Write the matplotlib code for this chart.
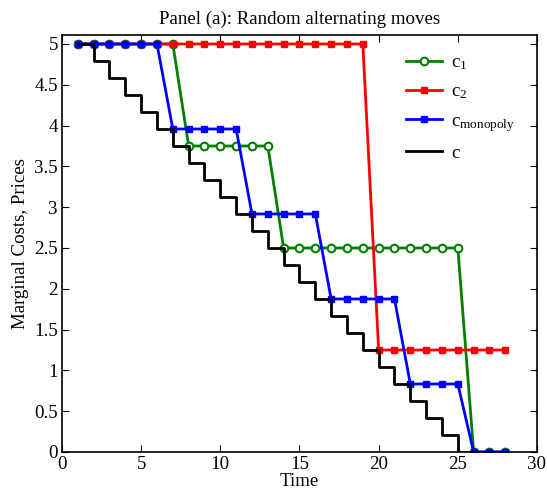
import matplotlib
matplotlib.use("Agg")
import matplotlib.pyplot as plt

plt.rcParams['font.family'] = ['Liberation Serif', 'DejaVu Serif']
plt.rcParams['mathtext.fontset'] = 'custom'
plt.rcParams['mathtext.rm'] = 'Liberation Serif'
plt.rcParams['mathtext.it'] = 'Liberation Serif:italic'

time = list(range(1, 29))

c1 = [5, 5, 5, 5, 5, 5, 5,
      3.75, 3.75, 3.75, 3.75, 3.75, 3.75,
      2.5, 2.5, 2.5, 2.5, 2.5, 2.5, 2.5, 2.5, 2.5, 2.5, 2.5, 2.5,
      0, 0, 0]

c2 = [5] * 19 + [1.25] * 9

c_monopoly = [5, 5, 5, 5, 5, 5,
              3.958, 3.958, 3.958, 3.958, 3.958,
              2.917, 2.917, 2.917, 2.917, 2.917,
              1.875, 1.875, 1.875, 1.875, 1.875,
              0.833, 0.833, 0.833, 0.833,
              0, 0, 0]

c = [5, 4.792, 4.583, 4.375, 4.167, 3.958, 3.75, 3.542, 3.333, 3.125,
     2.917, 2.708, 2.5, 2.292, 2.083, 1.875, 1.667, 1.458, 1.25, 1.042,
     0.833, 0.625, 0.417, 0.208, 0, 0, 0, 0]

x_ticks = [0, 5, 10, 15, 20, 25, 30]
y_ticks = [0, 0.5, 1, 1.5, 2, 2.5, 3, 3.5, 4, 4.5, 5]
y_tick_labels = ['0', '0.5', '1', '1.5', '2', '2.5', '3', '3.5', '4', '4.5', '5']

fig = plt.figure(figsize=(5.47, 4.95), dpi=100)
ax = fig.add_axes([0.1133, 0.0869, 0.8684, 0.8424])

fs = 13.6
ax.plot(time, c1, color='#008000', lw=2, marker='o', ms=5.5,
        mfc='white', mec='#008000', mew=1.5, label=r'c$_\mathrm{1}$')
ax.plot(time, c2, color='#ff0000', lw=2, marker='s', ms=4,
        mfc='#ff0000', mec='#ff0000', label=r'c$_\mathrm{2}$')
ax.plot(time, c_monopoly, color='#0000ff', lw=2, marker='s', ms=5,
        mfc='#0000ff', mec='#0000ff', label=r'c$_\mathrm{monopoly}$')
ax.plot(time, c, color='black', lw=2, drawstyle='steps-post', label='c')

ax.set_xlim(0, 30)
ax.set_ylim(0, 5.11)
ax.set_xticks(x_ticks)
ax.set_yticks(y_ticks)
ax.set_yticklabels(y_tick_labels)
ax.tick_params(direction='in', top=True, right=True, length=5, width=0.8,
               labelsize=fs, pad=3)
for s in ax.spines.values():
    s.set_linewidth(1.2)

ax.set_title('Panel (a): Random alternating moves', fontsize=fs, pad=8)
ax.set_xlabel('Time', fontsize=fs, labelpad=0)
ax.set_ylabel('Marginal Costs, Prices', fontsize=fs, labelpad=4)

leg = ax.legend(loc='upper right', frameon=False, fontsize=fs,
                handlelength=1.9, handletextpad=0.5, labelspacing=0.6,
                bbox_to_anchor=(0.99, 0.995))

fig.savefig('out.png', dpi=100)
